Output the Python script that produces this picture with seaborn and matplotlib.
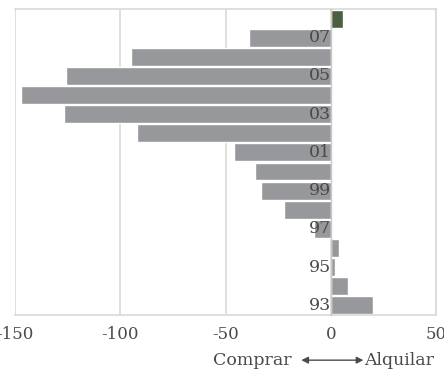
import numpy as np
import pandas as pd
import matplotlib.pyplot as plt
import matplotlib.transforms as mtransforms
import seaborn as sns

sns.set_style("white")
plt.rcParams['font.family'] = ['DejaVu Serif', 'Liberation Serif']
plt.rcParams['axes.unicode_minus'] = False

# Years from top (2008) to bottom (1993)
years = ['08', '07', '06', '05', '04', '03', '02', '01', '00', '99', '98', '97', '96', '95', '94', '93']
values = [6, -39, -95, -126, -147, -127, -92, -46, -36, -33, -22, -8, 4, 2, 8, 20]
shown_labels = ['07', '05', '03', '01', '99', '97', '95', '93']
x_ticks = [-150, -100, -50, 0, 50]
bar_colors = ['#4b5e3f'] + ['#97989b'] * (len(years) - 1)

df = pd.DataFrame({'year': years, 'value': values})

text_col = '#4a4a4a'
line_col = '#d9d9d9'

fig = plt.figure(figsize=(4.44, 3.74), dpi=100)
ax = fig.add_axes([0.034, 0.158, 0.948, 0.818])

sns.barplot(data=df, x='value', y='year', hue='year', order=years, hue_order=years,
            palette=bar_colors, orient='h', width=0.94, saturation=1, legend=False,
            ax=ax, zorder=2)

ax.set_xlim(-150, 50)
ax.set_ylim(len(years) - 0.5, -0.5)
ax.set_xticks(x_ticks)
ax.set_xticklabels([str(t) for t in x_ticks])
ax.grid(axis='x', color=line_col, lw=1.2, zorder=0)
ax.set_axisbelow(True)
ax.set_xlabel('')
ax.set_ylabel('')

for side in ['top', 'right', 'bottom']:
    ax.spines[side].set_color(line_col)
    ax.spines[side].set_linewidth(1.2)
ax.spines['left'].set_position(('data', 0))
ax.spines['left'].set_color('#c8c8c8')
ax.spines['left'].set_linewidth(1.0)
ax.spines['left'].set_zorder(3)

# tick marks at the category boundaries on the zero line
ax.set_yticks(np.arange(len(years)))
ax.set_yticklabels([])
ax.set_yticks(np.arange(len(years) + 1) - 0.5, minor=True)
ax.tick_params(axis='y', which='major', length=0)
ax.tick_params(axis='y', which='minor', length=3, direction='in', color='#c8c8c8', width=1)
ax.tick_params(axis='x', length=4, color=line_col, width=1.2, labelsize=12,
               labelcolor=text_col, pad=4)

# year labels drawn over the bars, right aligned on the zero line
for i, y in enumerate(years):
    if y in shown_labels:
        ax.annotate(y, xy=(0, i), xytext=(0, 0), textcoords='offset points',
                    ha='right', va='center', fontsize=12.5, color=text_col, zorder=4)

# caption under the axis
trans = mtransforms.blended_transform_factory(ax.transData, fig.transFigure)
ax.text(-18.5, 0.035, 'Comprar', transform=trans, ha='right', va='center',
        fontsize=12.5, color=text_col)
ax.text(16, 0.035, 'Alquilar', transform=trans, ha='left', va='center',
        fontsize=12.5, color=text_col)
ax.annotate('', xy=(15.5, 0.037), xytext=(-14, 0.037), xycoords=trans, textcoords=trans,
            arrowprops=dict(arrowstyle='<|-|>', color=text_col, lw=1.0,
                            mutation_scale=10, shrinkA=0, shrinkB=0),
            annotation_clip=False)

fig.savefig('out.png', dpi=100)
